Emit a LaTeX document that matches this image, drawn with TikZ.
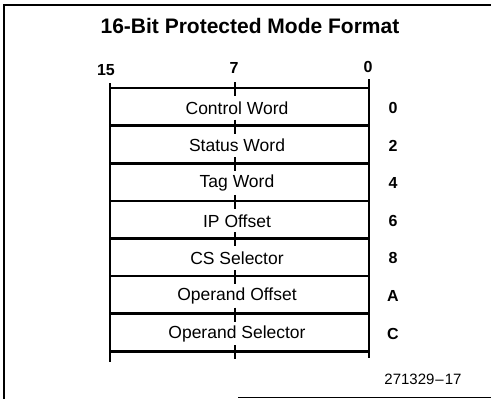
\documentclass[tikz,border=0pt]{standalone}
\usepackage{fontspec}
\setmainfont{Liberation Sans}
\begin{document}
\begin{tikzpicture}[x=1pt,y=-1pt,
  frame/.style={line width=1.3pt},
  rowline/.style={line width=2.6pt},
  side/.style={line width=1.8pt},
  tick/.style={line width=2pt},
  field/.style={font=\fontsize{17.5}{19}\selectfont, inner sep=0pt},
  fignum/.style={font=\fontsize{15}{18}\selectfont, inner sep=0pt},
  offs/.style={font=\fontsize{16}{18}\selectfont\bfseries, inner sep=0pt},
  bitlbl/.style={font=\fontsize{16}{18}\selectfont\bfseries, inner sep=0pt},
  ttl/.style={font=\fontsize{21}{24}\selectfont\bfseries, inner sep=0pt}]
\useasboundingbox (0,0) rectangle (491,399);
% outer frame (left, top, partial bottom)
\draw[frame] (4,399) -- (4,5) -- (491,5);
\draw[frame] (238,397.5) -- (491,397.5);
% title
\node[ttl] (title) at (250,26) {16-Bit Protected Mode Format};
% bit labels
\node[bitlbl] (b15) at (106,70) {15};
\node[bitlbl] (b7) at (234,68) {7};
\node[bitlbl] (b0) at (368,67) {0};
% sides
\draw[side] (110,83) -- (110,362);
\draw[side] (369,79) -- (369,358);
% row lines and ticks
\foreach \i in {0,...,7}{
  \pgfmathsetmacro{\yy}{88+37.6*\i}
  \draw[rowline] (109,\yy) -- (370,\yy);
  \draw[tick] (235,\yy-6) -- (235,\yy+8);
}
% fields
\foreach \t/\o [count=\k from 0] in {Control Word/0, Status Word/2, Tag Word/4, IP Offset/6, CS Selector/8, Operand Offset/A, Operand Selector/C}{
  \pgfmathsetmacro{\yc}{88+37.6*\k+20}
  \node[field] (f\k) at (237,\yc) {\t};
  \node[offs] (o\k) at (393,\yc) {\o};
}
\node[fignum] (fig) at (423,379) {271329\kern1pt–\kern1pt17};
\end{tikzpicture}
\end{document}
